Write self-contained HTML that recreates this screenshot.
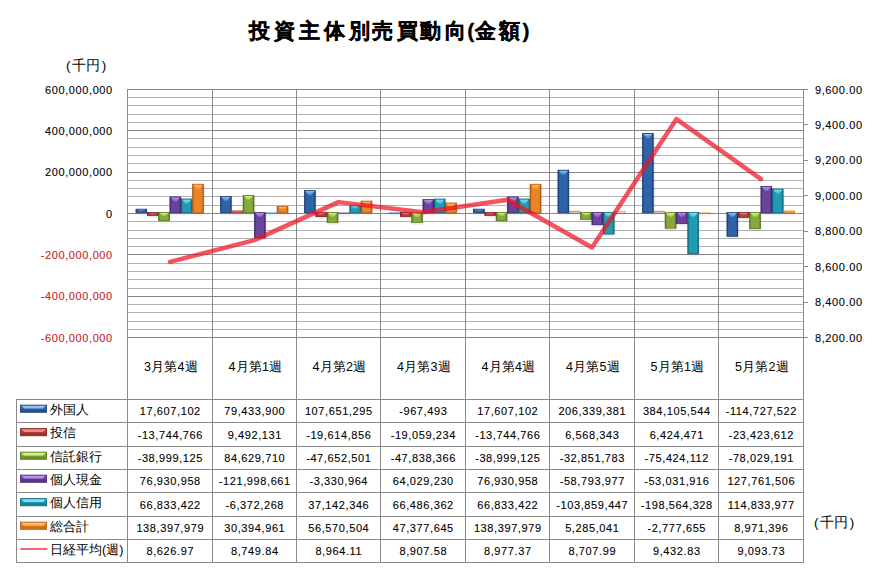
<!DOCTYPE html>
<html><head><meta charset="utf-8">
<style>
html,body{margin:0;padding:0;background:#fff;width:878px;height:585px;overflow:hidden}
body{font-family:"Liberation Sans",sans-serif;position:relative}
svg{position:absolute;left:0;top:0}
text{font-family:"Liberation Sans",sans-serif}
</style></head><body>
<svg width="878" height="585" viewBox="0 0 878 585">
<defs>

<linearGradient id="h0" x1="0" x2="1" y1="0" y2="0"><stop offset="0" stop-color="#1c3c6e"/><stop offset="0.18" stop-color="#2f63a8"/><stop offset="0.82" stop-color="#2f63a8"/><stop offset="1" stop-color="#1c3c6e"/></linearGradient>
<linearGradient id="k0" x1="0" x2="0" y1="0" y2="1"><stop offset="0" stop-color="#1c3c6e"/><stop offset="0.2" stop-color="#8cc0f8"/><stop offset="0.5" stop-color="#2f63a8"/><stop offset="1" stop-color="#1c3c6e"/></linearGradient>
<linearGradient id="h1" x1="0" x2="1" y1="0" y2="0"><stop offset="0" stop-color="#7a2422"/><stop offset="0.18" stop-color="#b8403c"/><stop offset="0.82" stop-color="#b8403c"/><stop offset="1" stop-color="#7a2422"/></linearGradient>
<linearGradient id="k1" x1="0" x2="0" y1="0" y2="1"><stop offset="0" stop-color="#7a2422"/><stop offset="0.2" stop-color="#f08a86"/><stop offset="0.5" stop-color="#b8403c"/><stop offset="1" stop-color="#7a2422"/></linearGradient>
<linearGradient id="h2" x1="0" x2="1" y1="0" y2="0"><stop offset="0" stop-color="#52701e"/><stop offset="0.18" stop-color="#86a83c"/><stop offset="0.82" stop-color="#86a83c"/><stop offset="1" stop-color="#52701e"/></linearGradient>
<linearGradient id="k2" x1="0" x2="0" y1="0" y2="1"><stop offset="0" stop-color="#52701e"/><stop offset="0.2" stop-color="#d2f27a"/><stop offset="0.5" stop-color="#86a83c"/><stop offset="1" stop-color="#52701e"/></linearGradient>
<linearGradient id="h3" x1="0" x2="1" y1="0" y2="0"><stop offset="0" stop-color="#402468"/><stop offset="0.18" stop-color="#6a449c"/><stop offset="0.82" stop-color="#6a449c"/><stop offset="1" stop-color="#402468"/></linearGradient>
<linearGradient id="k3" x1="0" x2="0" y1="0" y2="1"><stop offset="0" stop-color="#402468"/><stop offset="0.2" stop-color="#b890ea"/><stop offset="0.5" stop-color="#6a449c"/><stop offset="1" stop-color="#402468"/></linearGradient>
<linearGradient id="h4" x1="0" x2="1" y1="0" y2="0"><stop offset="0" stop-color="#0f6478"/><stop offset="0.18" stop-color="#2399b2"/><stop offset="0.82" stop-color="#2399b2"/><stop offset="1" stop-color="#0f6478"/></linearGradient>
<linearGradient id="k4" x1="0" x2="0" y1="0" y2="1"><stop offset="0" stop-color="#0f6478"/><stop offset="0.2" stop-color="#7ae4f6"/><stop offset="0.5" stop-color="#2399b2"/><stop offset="1" stop-color="#0f6478"/></linearGradient>
<linearGradient id="h5" x1="0" x2="1" y1="0" y2="0"><stop offset="0" stop-color="#a85610"/><stop offset="0.18" stop-color="#ea8426"/><stop offset="0.82" stop-color="#ea8426"/><stop offset="1" stop-color="#a85610"/></linearGradient>
<linearGradient id="k5" x1="0" x2="0" y1="0" y2="1"><stop offset="0" stop-color="#a85610"/><stop offset="0.2" stop-color="#fbbd62"/><stop offset="0.5" stop-color="#ea8426"/><stop offset="1" stop-color="#a85610"/></linearGradient>
<linearGradient id="t0" x1="0" x2="0" y1="0" y2="1"><stop offset="0" stop-color="#8cc0f8" stop-opacity="1"/><stop offset="1" stop-color="#8cc0f8" stop-opacity="0.35"/></linearGradient>
<linearGradient id="t1" x1="0" x2="0" y1="0" y2="1"><stop offset="0" stop-color="#f08a86" stop-opacity="1"/><stop offset="1" stop-color="#f08a86" stop-opacity="0.35"/></linearGradient>
<linearGradient id="t2" x1="0" x2="0" y1="0" y2="1"><stop offset="0" stop-color="#d2f27a" stop-opacity="1"/><stop offset="1" stop-color="#d2f27a" stop-opacity="0.35"/></linearGradient>
<linearGradient id="t3" x1="0" x2="0" y1="0" y2="1"><stop offset="0" stop-color="#b890ea" stop-opacity="1"/><stop offset="1" stop-color="#b890ea" stop-opacity="0.35"/></linearGradient>
<linearGradient id="t4" x1="0" x2="0" y1="0" y2="1"><stop offset="0" stop-color="#7ae4f6" stop-opacity="1"/><stop offset="1" stop-color="#7ae4f6" stop-opacity="0.35"/></linearGradient>
<linearGradient id="t5" x1="0" x2="0" y1="0" y2="1"><stop offset="0" stop-color="#fbbd62" stop-opacity="1"/><stop offset="1" stop-color="#fbbd62" stop-opacity="0.35"/></linearGradient>
<filter id="sh" x="-50%" y="-50%" width="200%" height="200%"><feGaussianBlur stdDeviation="1.2"/></filter>
</defs>
<text y="37.9" font-size="21" font-weight="bold" fill="#000" stroke="#000" stroke-width="0.35" x="248.7 273.7 298.7 323.9 348.6 371.7 397.3 420.4 445.3 467.2 475.4 499.3 522.5">投資主体別売買動向(金額)</text>
<text x="65.9 72.2 85.9 101.7" y="70.3" font-size="13.5" fill="#000">(千円)</text>
<line x1="127.5" x2="803.5" y1="97.5" y2="97.5" stroke="#b2b2b2" stroke-width="1"/>
<line x1="127.5" x2="803.5" y1="105.5" y2="105.5" stroke="#b2b2b2" stroke-width="1"/>
<line x1="127.5" x2="803.5" y1="114.5" y2="114.5" stroke="#b2b2b2" stroke-width="1"/>
<line x1="127.5" x2="803.5" y1="122.5" y2="122.5" stroke="#b2b2b2" stroke-width="1"/>
<line x1="127.5" x2="803.5" y1="138.5" y2="138.5" stroke="#b2b2b2" stroke-width="1"/>
<line x1="127.5" x2="803.5" y1="147.5" y2="147.5" stroke="#b2b2b2" stroke-width="1"/>
<line x1="127.5" x2="803.5" y1="155.5" y2="155.5" stroke="#b2b2b2" stroke-width="1"/>
<line x1="127.5" x2="803.5" y1="163.5" y2="163.5" stroke="#b2b2b2" stroke-width="1"/>
<line x1="127.5" x2="803.5" y1="180.5" y2="180.5" stroke="#b2b2b2" stroke-width="1"/>
<line x1="127.5" x2="803.5" y1="188.5" y2="188.5" stroke="#b2b2b2" stroke-width="1"/>
<line x1="127.5" x2="803.5" y1="196.5" y2="196.5" stroke="#b2b2b2" stroke-width="1"/>
<line x1="127.5" x2="803.5" y1="205.5" y2="205.5" stroke="#b2b2b2" stroke-width="1"/>
<line x1="127.5" x2="803.5" y1="221.5" y2="221.5" stroke="#b2b2b2" stroke-width="1"/>
<line x1="127.5" x2="803.5" y1="230.5" y2="230.5" stroke="#b2b2b2" stroke-width="1"/>
<line x1="127.5" x2="803.5" y1="238.5" y2="238.5" stroke="#b2b2b2" stroke-width="1"/>
<line x1="127.5" x2="803.5" y1="246.5" y2="246.5" stroke="#b2b2b2" stroke-width="1"/>
<line x1="127.5" x2="803.5" y1="263.5" y2="263.5" stroke="#b2b2b2" stroke-width="1"/>
<line x1="127.5" x2="803.5" y1="271.5" y2="271.5" stroke="#b2b2b2" stroke-width="1"/>
<line x1="127.5" x2="803.5" y1="279.5" y2="279.5" stroke="#b2b2b2" stroke-width="1"/>
<line x1="127.5" x2="803.5" y1="288.5" y2="288.5" stroke="#b2b2b2" stroke-width="1"/>
<line x1="127.5" x2="803.5" y1="304.5" y2="304.5" stroke="#b2b2b2" stroke-width="1"/>
<line x1="127.5" x2="803.5" y1="312.5" y2="312.5" stroke="#b2b2b2" stroke-width="1"/>
<line x1="127.5" x2="803.5" y1="321.5" y2="321.5" stroke="#b2b2b2" stroke-width="1"/>
<line x1="127.5" x2="803.5" y1="329.5" y2="329.5" stroke="#b2b2b2" stroke-width="1"/>
<line x1="127.5" x2="803.5" y1="89.5" y2="89.5" stroke="#868686" stroke-width="1"/>
<line x1="127.5" x2="803.5" y1="130.5" y2="130.5" stroke="#868686" stroke-width="1"/>
<line x1="127.5" x2="803.5" y1="172.5" y2="172.5" stroke="#868686" stroke-width="1"/>
<line x1="127.5" x2="803.5" y1="213.5" y2="213.5" stroke="#868686" stroke-width="1"/>
<line x1="127.5" x2="803.5" y1="254.5" y2="254.5" stroke="#868686" stroke-width="1"/>
<line x1="127.5" x2="803.5" y1="296.5" y2="296.5" stroke="#868686" stroke-width="1"/>
<line x1="127.5" x2="803.5" y1="337.5" y2="337.5" stroke="#868686" stroke-width="1"/>
<line x1="127.5" x2="127.5" y1="89.0" y2="563" stroke="#8a8a8a" stroke-width="1"/>
<line x1="212.5" x2="212.5" y1="89.0" y2="563" stroke="#8a8a8a" stroke-width="1"/>
<line x1="296.5" x2="296.5" y1="89.0" y2="563" stroke="#8a8a8a" stroke-width="1"/>
<line x1="380.5" x2="380.5" y1="89.0" y2="563" stroke="#8a8a8a" stroke-width="1"/>
<line x1="465.5" x2="465.5" y1="89.0" y2="563" stroke="#8a8a8a" stroke-width="1"/>
<line x1="549.5" x2="549.5" y1="89.0" y2="563" stroke="#8a8a8a" stroke-width="1"/>
<line x1="634.5" x2="634.5" y1="89.0" y2="563" stroke="#8a8a8a" stroke-width="1"/>
<line x1="718.5" x2="718.5" y1="89.0" y2="563" stroke="#8a8a8a" stroke-width="1"/>
<line x1="803.5" x2="803.5" y1="89.0" y2="563" stroke="#8a8a8a" stroke-width="1"/>
<line x1="803.5" x2="808" y1="89.5" y2="89.5" stroke="#8a8a8a" stroke-width="1"/>
<line x1="803.5" x2="808" y1="124.5" y2="124.5" stroke="#8a8a8a" stroke-width="1"/>
<line x1="803.5" x2="808" y1="160.5" y2="160.5" stroke="#8a8a8a" stroke-width="1"/>
<line x1="803.5" x2="808" y1="195.5" y2="195.5" stroke="#8a8a8a" stroke-width="1"/>
<line x1="803.5" x2="808" y1="231.5" y2="231.5" stroke="#8a8a8a" stroke-width="1"/>
<line x1="803.5" x2="808" y1="266.5" y2="266.5" stroke="#8a8a8a" stroke-width="1"/>
<line x1="803.5" x2="808" y1="302.5" y2="302.5" stroke="#8a8a8a" stroke-width="1"/>
<line x1="803.5" x2="808" y1="337.5" y2="337.5" stroke="#8a8a8a" stroke-width="1"/>
<text x="112.8" y="93.50" text-anchor="end" font-size="11" letter-spacing="0.6" fill="#000" stroke="#000" stroke-width="0.1">600,000,000</text>
<text x="112.8" y="134.83" text-anchor="end" font-size="11" letter-spacing="0.6" fill="#000" stroke="#000" stroke-width="0.1">400,000,000</text>
<text x="112.8" y="176.17" text-anchor="end" font-size="11" letter-spacing="0.6" fill="#000" stroke="#000" stroke-width="0.1">200,000,000</text>
<text x="112.8" y="217.50" text-anchor="end" font-size="11" letter-spacing="0.6" fill="#000" stroke="#000" stroke-width="0.1">0</text>
<text x="112.8" y="258.83" text-anchor="end" font-size="11" letter-spacing="0.6" fill="#c8202a" stroke="#c8202a" stroke-width="0.1">-200,000,000</text>
<text x="112.8" y="300.17" text-anchor="end" font-size="11" letter-spacing="0.6" fill="#c8202a" stroke="#c8202a" stroke-width="0.1">-400,000,000</text>
<text x="112.8" y="341.50" text-anchor="end" font-size="11" letter-spacing="0.6" fill="#c8202a" stroke="#c8202a" stroke-width="0.1">-600,000,000</text>
<text x="815" y="93.50" font-size="11" letter-spacing="0.6" fill="#000" stroke="#000" stroke-width="0.1">9,600.00</text>
<text x="815" y="128.93" font-size="11" letter-spacing="0.6" fill="#000" stroke="#000" stroke-width="0.1">9,400.00</text>
<text x="815" y="164.36" font-size="11" letter-spacing="0.6" fill="#000" stroke="#000" stroke-width="0.1">9,200.00</text>
<text x="815" y="199.79" font-size="11" letter-spacing="0.6" fill="#000" stroke="#000" stroke-width="0.1">9,000.00</text>
<text x="815" y="235.21" font-size="11" letter-spacing="0.6" fill="#000" stroke="#000" stroke-width="0.1">8,800.00</text>
<text x="815" y="270.64" font-size="11" letter-spacing="0.6" fill="#000" stroke="#000" stroke-width="0.1">8,600.00</text>
<text x="815" y="306.07" font-size="11" letter-spacing="0.6" fill="#000" stroke="#000" stroke-width="0.1">8,400.00</text>
<text x="815" y="341.50" font-size="11" letter-spacing="0.6" fill="#000" stroke="#000" stroke-width="0.1">8,200.00</text>
<rect x="136.21" y="210.36" width="11.33" height="4.04" fill="#000" opacity="0.12" filter="url(#sh)"/>
<rect x="135.71" y="208.86" width="11.33" height="4.04" fill="url(#h0)"/>
<polygon points="136.71,209.56 146.04,209.56 142.57,210.68 140.17,210.68" fill="url(#t0)"/>
<rect x="136.06" y="209.21" width="10.63" height="3.34" fill="none" stroke="#1c3c6e" stroke-width="0.7" opacity="0.8"/>
<rect x="147.54" y="213.60" width="11.33" height="3.64" fill="#000" opacity="0.12" filter="url(#sh)"/>
<rect x="147.04" y="212.10" width="11.33" height="3.64" fill="url(#h1)"/>
<polygon points="148.04,212.80 157.37,212.80 153.90,213.74 151.50,213.74" fill="url(#t1)"/>
<rect x="147.39" y="212.45" width="10.63" height="2.94" fill="none" stroke="#7a2422" stroke-width="0.7" opacity="0.8"/>
<rect x="158.87" y="213.60" width="11.33" height="8.86" fill="#000" opacity="0.12" filter="url(#sh)"/>
<rect x="158.37" y="212.10" width="11.33" height="8.86" fill="url(#h2)"/>
<polygon points="159.37,212.80 168.70,212.80 165.23,216.09 162.83,216.09" fill="url(#t2)"/>
<rect x="158.72" y="212.45" width="10.63" height="8.16" fill="none" stroke="#52701e" stroke-width="0.7" opacity="0.8"/>
<rect x="170.20" y="198.10" width="11.33" height="16.30" fill="#000" opacity="0.12" filter="url(#sh)"/>
<rect x="169.70" y="196.60" width="11.33" height="16.30" fill="url(#h3)"/>
<polygon points="170.70,197.30 180.03,197.30 176.56,201.60 174.16,201.60" fill="url(#t3)"/>
<rect x="170.05" y="196.95" width="10.63" height="15.60" fill="none" stroke="#402468" stroke-width="0.7" opacity="0.8"/>
<rect x="181.53" y="200.19" width="11.33" height="14.21" fill="#000" opacity="0.12" filter="url(#sh)"/>
<rect x="181.03" y="198.69" width="11.33" height="14.21" fill="url(#h4)"/>
<polygon points="182.03,199.39 191.36,199.39 187.89,203.69 185.49,203.69" fill="url(#t4)"/>
<rect x="181.38" y="199.04" width="10.63" height="13.51" fill="none" stroke="#0f6478" stroke-width="0.7" opacity="0.8"/>
<rect x="192.86" y="185.40" width="11.33" height="29.00" fill="#000" opacity="0.12" filter="url(#sh)"/>
<rect x="192.36" y="183.90" width="11.33" height="29.00" fill="url(#h5)"/>
<polygon points="193.36,184.60 202.69,184.60 199.22,188.90 196.82,188.90" fill="url(#t5)"/>
<rect x="192.71" y="184.25" width="10.63" height="28.30" fill="none" stroke="#a85610" stroke-width="0.7" opacity="0.8"/>
<rect x="220.71" y="197.58" width="11.33" height="16.82" fill="#000" opacity="0.12" filter="url(#sh)"/>
<rect x="220.21" y="196.08" width="11.33" height="16.82" fill="url(#h0)"/>
<polygon points="221.21,196.78 230.54,196.78 227.07,201.08 224.67,201.08" fill="url(#t0)"/>
<rect x="220.56" y="196.43" width="10.63" height="16.12" fill="none" stroke="#1c3c6e" stroke-width="0.7" opacity="0.8"/>
<rect x="232.04" y="212.04" width="11.33" height="2.36" fill="#000" opacity="0.12" filter="url(#sh)"/>
<rect x="231.54" y="210.54" width="11.33" height="2.36" fill="url(#h1)"/>
<rect x="231.54" y="210.54" width="11.33" height="1.18" fill="#f08a86" opacity="0.6"/>
<rect x="243.37" y="196.51" width="11.33" height="17.89" fill="#000" opacity="0.12" filter="url(#sh)"/>
<rect x="242.87" y="195.01" width="11.33" height="17.89" fill="url(#h2)"/>
<polygon points="243.87,195.71 253.20,195.71 249.73,200.01 247.33,200.01" fill="url(#t2)"/>
<rect x="243.22" y="195.36" width="10.63" height="17.19" fill="none" stroke="#52701e" stroke-width="0.7" opacity="0.8"/>
<rect x="254.70" y="213.60" width="11.33" height="26.01" fill="#000" opacity="0.12" filter="url(#sh)"/>
<rect x="254.20" y="212.10" width="11.33" height="26.01" fill="url(#h3)"/>
<polygon points="255.20,212.80 264.53,212.80 261.06,217.10 258.67,217.10" fill="url(#t3)"/>
<rect x="254.55" y="212.45" width="10.63" height="25.31" fill="none" stroke="#402468" stroke-width="0.7" opacity="0.8"/>
<rect x="266.03" y="213.80" width="11.33" height="1.60" fill="#000" opacity="0.12" filter="url(#sh)"/>
<rect x="265.53" y="212.30" width="11.33" height="1.60" fill="url(#h4)" opacity="0.6"/>
<rect x="265.53" y="212.30" width="11.33" height="0.80" fill="#7ae4f6" opacity="0.6"/>
<rect x="277.36" y="207.72" width="11.33" height="6.68" fill="#000" opacity="0.12" filter="url(#sh)"/>
<rect x="276.86" y="206.22" width="11.33" height="6.68" fill="url(#h5)"/>
<polygon points="277.86,206.92 287.19,206.92 283.72,209.23 281.32,209.23" fill="url(#t5)"/>
<rect x="277.21" y="206.57" width="10.63" height="5.98" fill="none" stroke="#a85610" stroke-width="0.7" opacity="0.8"/>
<rect x="304.71" y="191.75" width="11.33" height="22.65" fill="#000" opacity="0.12" filter="url(#sh)"/>
<rect x="304.21" y="190.25" width="11.33" height="22.65" fill="url(#h0)"/>
<polygon points="305.21,190.95 314.54,190.95 311.07,195.25 308.68,195.25" fill="url(#t0)"/>
<rect x="304.56" y="190.60" width="10.63" height="21.95" fill="none" stroke="#1c3c6e" stroke-width="0.7" opacity="0.8"/>
<rect x="316.04" y="213.60" width="11.33" height="4.85" fill="#000" opacity="0.12" filter="url(#sh)"/>
<rect x="315.54" y="212.10" width="11.33" height="4.85" fill="url(#h1)"/>
<polygon points="316.54,212.80 325.87,212.80 322.40,214.28 320.00,214.28" fill="url(#t1)"/>
<rect x="315.89" y="212.45" width="10.63" height="4.15" fill="none" stroke="#7a2422" stroke-width="0.7" opacity="0.8"/>
<rect x="327.37" y="213.60" width="11.33" height="10.65" fill="#000" opacity="0.12" filter="url(#sh)"/>
<rect x="326.87" y="212.10" width="11.33" height="10.65" fill="url(#h2)"/>
<polygon points="327.87,212.80 337.20,212.80 333.74,216.89 331.34,216.89" fill="url(#t2)"/>
<rect x="327.22" y="212.45" width="10.63" height="9.95" fill="none" stroke="#52701e" stroke-width="0.7" opacity="0.8"/>
<rect x="338.70" y="213.80" width="11.33" height="1.60" fill="#000" opacity="0.12" filter="url(#sh)"/>
<rect x="338.20" y="212.30" width="11.33" height="1.60" fill="url(#h3)" opacity="0.6"/>
<rect x="338.20" y="212.30" width="11.33" height="0.80" fill="#b890ea" opacity="0.6"/>
<rect x="350.03" y="206.32" width="11.33" height="8.08" fill="#000" opacity="0.12" filter="url(#sh)"/>
<rect x="349.53" y="204.82" width="11.33" height="8.08" fill="url(#h4)"/>
<polygon points="350.53,205.52 359.86,205.52 356.39,208.46 354.00,208.46" fill="url(#t4)"/>
<rect x="349.88" y="205.17" width="10.63" height="7.38" fill="none" stroke="#0f6478" stroke-width="0.7" opacity="0.8"/>
<rect x="361.36" y="202.31" width="11.33" height="12.09" fill="#000" opacity="0.12" filter="url(#sh)"/>
<rect x="360.86" y="200.81" width="11.33" height="12.09" fill="url(#h5)"/>
<polygon points="361.86,201.51 371.19,201.51 367.72,205.81 365.32,205.81" fill="url(#t5)"/>
<rect x="361.21" y="201.16" width="10.63" height="11.39" fill="none" stroke="#a85610" stroke-width="0.7" opacity="0.8"/>
<rect x="389.21" y="213.80" width="11.33" height="1.60" fill="#000" opacity="0.12" filter="url(#sh)"/>
<rect x="388.71" y="212.30" width="11.33" height="1.60" fill="url(#h0)" opacity="0.6"/>
<rect x="388.71" y="212.30" width="11.33" height="0.80" fill="#8cc0f8" opacity="0.6"/>
<rect x="400.54" y="213.60" width="11.33" height="4.74" fill="#000" opacity="0.12" filter="url(#sh)"/>
<rect x="400.04" y="212.10" width="11.33" height="4.74" fill="url(#h1)"/>
<polygon points="401.04,212.80 410.37,212.80 406.90,214.23 404.50,214.23" fill="url(#t1)"/>
<rect x="400.39" y="212.45" width="10.63" height="4.04" fill="none" stroke="#7a2422" stroke-width="0.7" opacity="0.8"/>
<rect x="411.87" y="213.60" width="11.33" height="10.69" fill="#000" opacity="0.12" filter="url(#sh)"/>
<rect x="411.37" y="212.10" width="11.33" height="10.69" fill="url(#h2)"/>
<polygon points="412.37,212.80 421.70,212.80 418.24,216.91 415.84,216.91" fill="url(#t2)"/>
<rect x="411.72" y="212.45" width="10.63" height="9.99" fill="none" stroke="#52701e" stroke-width="0.7" opacity="0.8"/>
<rect x="423.20" y="200.77" width="11.33" height="13.63" fill="#000" opacity="0.12" filter="url(#sh)"/>
<rect x="422.70" y="199.27" width="11.33" height="13.63" fill="url(#h3)"/>
<polygon points="423.70,199.97 433.03,199.97 429.56,204.27 427.17,204.27" fill="url(#t3)"/>
<rect x="423.05" y="199.62" width="10.63" height="12.93" fill="none" stroke="#402468" stroke-width="0.7" opacity="0.8"/>
<rect x="434.53" y="200.26" width="11.33" height="14.14" fill="#000" opacity="0.12" filter="url(#sh)"/>
<rect x="434.03" y="198.76" width="11.33" height="14.14" fill="url(#h4)"/>
<polygon points="435.03,199.46 444.36,199.46 440.89,203.76 438.50,203.76" fill="url(#t4)"/>
<rect x="434.38" y="199.11" width="10.63" height="13.44" fill="none" stroke="#0f6478" stroke-width="0.7" opacity="0.8"/>
<rect x="445.86" y="204.21" width="11.33" height="10.19" fill="#000" opacity="0.12" filter="url(#sh)"/>
<rect x="445.36" y="202.71" width="11.33" height="10.19" fill="url(#h5)"/>
<polygon points="446.36,203.41 455.69,203.41 452.22,207.29 449.82,207.29" fill="url(#t5)"/>
<rect x="445.71" y="203.06" width="10.63" height="9.49" fill="none" stroke="#a85610" stroke-width="0.7" opacity="0.8"/>
<rect x="473.71" y="210.36" width="11.33" height="4.04" fill="#000" opacity="0.12" filter="url(#sh)"/>
<rect x="473.21" y="208.86" width="11.33" height="4.04" fill="url(#h0)"/>
<polygon points="474.21,209.56 483.54,209.56 480.07,210.68 477.68,210.68" fill="url(#t0)"/>
<rect x="473.56" y="209.21" width="10.63" height="3.34" fill="none" stroke="#1c3c6e" stroke-width="0.7" opacity="0.8"/>
<rect x="485.04" y="213.60" width="11.33" height="3.64" fill="#000" opacity="0.12" filter="url(#sh)"/>
<rect x="484.54" y="212.10" width="11.33" height="3.64" fill="url(#h1)"/>
<polygon points="485.54,212.80 494.87,212.80 491.40,213.74 489.00,213.74" fill="url(#t1)"/>
<rect x="484.89" y="212.45" width="10.63" height="2.94" fill="none" stroke="#7a2422" stroke-width="0.7" opacity="0.8"/>
<rect x="496.37" y="213.60" width="11.33" height="8.86" fill="#000" opacity="0.12" filter="url(#sh)"/>
<rect x="495.87" y="212.10" width="11.33" height="8.86" fill="url(#h2)"/>
<polygon points="496.87,212.80 506.20,212.80 502.74,216.09 500.34,216.09" fill="url(#t2)"/>
<rect x="496.22" y="212.45" width="10.63" height="8.16" fill="none" stroke="#52701e" stroke-width="0.7" opacity="0.8"/>
<rect x="507.70" y="198.10" width="11.33" height="16.30" fill="#000" opacity="0.12" filter="url(#sh)"/>
<rect x="507.20" y="196.60" width="11.33" height="16.30" fill="url(#h3)"/>
<polygon points="508.20,197.30 517.53,197.30 514.07,201.60 511.67,201.60" fill="url(#t3)"/>
<rect x="507.55" y="196.95" width="10.63" height="15.60" fill="none" stroke="#402468" stroke-width="0.7" opacity="0.8"/>
<rect x="519.03" y="200.19" width="11.33" height="14.21" fill="#000" opacity="0.12" filter="url(#sh)"/>
<rect x="518.53" y="198.69" width="11.33" height="14.21" fill="url(#h4)"/>
<polygon points="519.53,199.39 528.86,199.39 525.39,203.69 522.99,203.69" fill="url(#t4)"/>
<rect x="518.88" y="199.04" width="10.63" height="13.51" fill="none" stroke="#0f6478" stroke-width="0.7" opacity="0.8"/>
<rect x="530.36" y="185.40" width="11.33" height="29.00" fill="#000" opacity="0.12" filter="url(#sh)"/>
<rect x="529.86" y="183.90" width="11.33" height="29.00" fill="url(#h5)"/>
<polygon points="530.86,184.60 540.19,184.60 536.73,188.90 534.32,188.90" fill="url(#t5)"/>
<rect x="530.21" y="184.25" width="10.63" height="28.30" fill="none" stroke="#a85610" stroke-width="0.7" opacity="0.8"/>
<rect x="558.21" y="171.36" width="11.33" height="43.04" fill="#000" opacity="0.12" filter="url(#sh)"/>
<rect x="557.71" y="169.86" width="11.33" height="43.04" fill="url(#h0)"/>
<polygon points="558.71,170.56 568.04,170.56 564.58,174.86 562.17,174.86" fill="url(#t0)"/>
<rect x="558.06" y="170.21" width="10.63" height="42.34" fill="none" stroke="#1c3c6e" stroke-width="0.7" opacity="0.8"/>
<rect x="569.54" y="212.40" width="11.33" height="1.60" fill="#000" opacity="0.12" filter="url(#sh)"/>
<rect x="569.04" y="210.90" width="11.33" height="1.60" fill="url(#h1)" opacity="0.6"/>
<rect x="569.04" y="210.90" width="11.33" height="0.80" fill="#f08a86" opacity="0.6"/>
<rect x="580.87" y="213.60" width="11.33" height="7.59" fill="#000" opacity="0.12" filter="url(#sh)"/>
<rect x="580.37" y="212.10" width="11.33" height="7.59" fill="url(#h2)"/>
<polygon points="581.37,212.80 590.70,212.80 587.24,215.52 584.83,215.52" fill="url(#t2)"/>
<rect x="580.72" y="212.45" width="10.63" height="6.89" fill="none" stroke="#52701e" stroke-width="0.7" opacity="0.8"/>
<rect x="592.20" y="213.60" width="11.33" height="12.95" fill="#000" opacity="0.12" filter="url(#sh)"/>
<rect x="591.70" y="212.10" width="11.33" height="12.95" fill="url(#h3)"/>
<polygon points="592.70,212.80 602.03,212.80 598.57,217.10 596.16,217.10" fill="url(#t3)"/>
<rect x="592.05" y="212.45" width="10.63" height="12.25" fill="none" stroke="#402468" stroke-width="0.7" opacity="0.8"/>
<rect x="603.53" y="213.60" width="11.33" height="22.26" fill="#000" opacity="0.12" filter="url(#sh)"/>
<rect x="603.03" y="212.10" width="11.33" height="22.26" fill="url(#h4)"/>
<polygon points="604.03,212.80 613.36,212.80 609.90,217.10 607.50,217.10" fill="url(#t4)"/>
<rect x="603.38" y="212.45" width="10.63" height="21.56" fill="none" stroke="#0f6478" stroke-width="0.7" opacity="0.8"/>
<rect x="614.86" y="212.40" width="11.33" height="1.60" fill="#000" opacity="0.12" filter="url(#sh)"/>
<rect x="614.36" y="210.90" width="11.33" height="1.60" fill="url(#h5)" opacity="0.6"/>
<rect x="614.36" y="210.90" width="11.33" height="0.80" fill="#fbbd62" opacity="0.6"/>
<rect x="642.71" y="134.62" width="11.33" height="79.78" fill="#000" opacity="0.12" filter="url(#sh)"/>
<rect x="642.21" y="133.12" width="11.33" height="79.78" fill="url(#h0)"/>
<polygon points="643.21,133.82 652.54,133.82 649.08,138.12 646.67,138.12" fill="url(#t0)"/>
<rect x="642.56" y="133.47" width="10.63" height="79.08" fill="none" stroke="#1c3c6e" stroke-width="0.7" opacity="0.8"/>
<rect x="654.04" y="212.40" width="11.33" height="1.60" fill="#000" opacity="0.12" filter="url(#sh)"/>
<rect x="653.54" y="210.90" width="11.33" height="1.60" fill="url(#h1)" opacity="0.6"/>
<rect x="653.54" y="210.90" width="11.33" height="0.80" fill="#f08a86" opacity="0.6"/>
<rect x="665.37" y="213.60" width="11.33" height="16.39" fill="#000" opacity="0.12" filter="url(#sh)"/>
<rect x="664.87" y="212.10" width="11.33" height="16.39" fill="url(#h2)"/>
<polygon points="665.87,212.80 675.20,212.80 671.74,217.10 669.33,217.10" fill="url(#t2)"/>
<rect x="665.22" y="212.45" width="10.63" height="15.69" fill="none" stroke="#52701e" stroke-width="0.7" opacity="0.8"/>
<rect x="676.70" y="213.60" width="11.33" height="11.76" fill="#000" opacity="0.12" filter="url(#sh)"/>
<rect x="676.20" y="212.10" width="11.33" height="11.76" fill="url(#h3)"/>
<polygon points="677.20,212.80 686.53,212.80 683.07,217.10 680.66,217.10" fill="url(#t3)"/>
<rect x="676.55" y="212.45" width="10.63" height="11.06" fill="none" stroke="#402468" stroke-width="0.7" opacity="0.8"/>
<rect x="688.03" y="213.60" width="11.33" height="41.84" fill="#000" opacity="0.12" filter="url(#sh)"/>
<rect x="687.53" y="212.10" width="11.33" height="41.84" fill="url(#h4)"/>
<polygon points="688.53,212.80 697.86,212.80 694.40,217.10 692.00,217.10" fill="url(#t4)"/>
<rect x="687.88" y="212.45" width="10.63" height="41.14" fill="none" stroke="#0f6478" stroke-width="0.7" opacity="0.8"/>
<rect x="699.36" y="213.80" width="11.33" height="1.60" fill="#000" opacity="0.12" filter="url(#sh)"/>
<rect x="698.86" y="212.30" width="11.33" height="1.60" fill="url(#h5)" opacity="0.6"/>
<rect x="698.86" y="212.30" width="11.33" height="0.80" fill="#fbbd62" opacity="0.6"/>
<rect x="727.21" y="213.60" width="11.33" height="24.51" fill="#000" opacity="0.12" filter="url(#sh)"/>
<rect x="726.71" y="212.10" width="11.33" height="24.51" fill="url(#h0)"/>
<polygon points="727.71,212.80 737.04,212.80 733.58,217.10 731.17,217.10" fill="url(#t0)"/>
<rect x="727.06" y="212.45" width="10.63" height="23.81" fill="none" stroke="#1c3c6e" stroke-width="0.7" opacity="0.8"/>
<rect x="738.54" y="213.60" width="11.33" height="5.64" fill="#000" opacity="0.12" filter="url(#sh)"/>
<rect x="738.04" y="212.10" width="11.33" height="5.64" fill="url(#h1)"/>
<polygon points="739.04,212.80 748.37,212.80 744.91,214.64 742.50,214.64" fill="url(#t1)"/>
<rect x="738.39" y="212.45" width="10.63" height="4.94" fill="none" stroke="#7a2422" stroke-width="0.7" opacity="0.8"/>
<rect x="749.87" y="213.60" width="11.33" height="16.93" fill="#000" opacity="0.12" filter="url(#sh)"/>
<rect x="749.37" y="212.10" width="11.33" height="16.93" fill="url(#h2)"/>
<polygon points="750.37,212.80 759.70,212.80 756.24,217.10 753.83,217.10" fill="url(#t2)"/>
<rect x="749.72" y="212.45" width="10.63" height="16.23" fill="none" stroke="#52701e" stroke-width="0.7" opacity="0.8"/>
<rect x="761.20" y="187.60" width="11.33" height="26.80" fill="#000" opacity="0.12" filter="url(#sh)"/>
<rect x="760.70" y="186.10" width="11.33" height="26.80" fill="url(#h3)"/>
<polygon points="761.70,186.80 771.03,186.80 767.57,191.10 765.16,191.10" fill="url(#t3)"/>
<rect x="761.05" y="186.45" width="10.63" height="26.10" fill="none" stroke="#402468" stroke-width="0.7" opacity="0.8"/>
<rect x="772.53" y="190.27" width="11.33" height="24.13" fill="#000" opacity="0.12" filter="url(#sh)"/>
<rect x="772.03" y="188.77" width="11.33" height="24.13" fill="url(#h4)"/>
<polygon points="773.03,189.47 782.36,189.47 778.90,193.77 776.50,193.77" fill="url(#t4)"/>
<rect x="772.38" y="189.12" width="10.63" height="23.43" fill="none" stroke="#0f6478" stroke-width="0.7" opacity="0.8"/>
<rect x="783.86" y="212.15" width="11.33" height="2.25" fill="#000" opacity="0.12" filter="url(#sh)"/>
<rect x="783.36" y="210.65" width="11.33" height="2.25" fill="url(#h5)"/>
<rect x="783.36" y="210.65" width="11.33" height="1.13" fill="#fbbd62" opacity="0.6"/>
<polyline points="170.00,261.87 254.50,240.10 338.50,202.14 423.00,212.16 507.50,199.79 592.00,247.51 676.50,119.11 761.00,179.18" fill="none" stroke="#ed1423" stroke-opacity="0.72" stroke-width="4.5" stroke-linejoin="round" stroke-linecap="round"/>
<text x="170.00" y="371.2" text-anchor="middle" dx="1" font-size="12.5" letter-spacing="0.2" fill="#000">3月第4週</text>
<text x="254.50" y="371.2" text-anchor="middle" dx="1" font-size="12.5" letter-spacing="0.2" fill="#000">4月第1週</text>
<text x="338.50" y="371.2" text-anchor="middle" dx="1" font-size="12.5" letter-spacing="0.2" fill="#000">4月第2週</text>
<text x="423.00" y="371.2" text-anchor="middle" dx="1" font-size="12.5" letter-spacing="0.2" fill="#000">4月第3週</text>
<text x="507.50" y="371.2" text-anchor="middle" dx="1" font-size="12.5" letter-spacing="0.2" fill="#000">4月第4週</text>
<text x="592.00" y="371.2" text-anchor="middle" dx="1" font-size="12.5" letter-spacing="0.2" fill="#000">4月第5週</text>
<text x="676.50" y="371.2" text-anchor="middle" dx="1" font-size="12.5" letter-spacing="0.2" fill="#000">5月第1週</text>
<text x="761.00" y="371.2" text-anchor="middle" dx="1" font-size="12.5" letter-spacing="0.2" fill="#000">5月第2週</text>
<line x1="16" x2="803.5" y1="399.5" y2="399.5" stroke="#8a8a8a" stroke-width="1"/>
<line x1="16" x2="803.5" y1="422.5" y2="422.5" stroke="#8a8a8a" stroke-width="1"/>
<line x1="16" x2="803.5" y1="446.5" y2="446.5" stroke="#8a8a8a" stroke-width="1"/>
<line x1="16" x2="803.5" y1="469.5" y2="469.5" stroke="#8a8a8a" stroke-width="1"/>
<line x1="16" x2="803.5" y1="492.5" y2="492.5" stroke="#8a8a8a" stroke-width="1"/>
<line x1="16" x2="803.5" y1="516.5" y2="516.5" stroke="#8a8a8a" stroke-width="1"/>
<line x1="16" x2="803.5" y1="539.5" y2="539.5" stroke="#8a8a8a" stroke-width="1"/>
<line x1="16" x2="803.5" y1="562.5" y2="562.5" stroke="#8a8a8a" stroke-width="1"/>
<line x1="16.5" x2="16.5" y1="399.5" y2="563" stroke="#8a8a8a" stroke-width="1"/>
<rect x="20.4" y="405.10" width="26.2" height="7.2" fill="#2f63a8" stroke="#1c3c6e" stroke-width="0.8"/>
<rect x="21" y="409.30" width="25" height="2.6" fill="#1c3c6e" opacity="0.45"/>
<polygon points="21.2,405.70 45.8,405.70 42.8,408.60 24.2,408.60" fill="#8cc0f8"/>
<text x="50" y="413.80" font-size="12.5" letter-spacing="0.0" fill="#000">外国人</text>
<text x="170.00" y="415.30" dx="0.3" text-anchor="middle" font-size="11" letter-spacing="0.6" fill="#000" stroke="#000" stroke-width="0.1">17,607,102</text>
<text x="254.50" y="415.30" dx="0.3" text-anchor="middle" font-size="11" letter-spacing="0.6" fill="#000" stroke="#000" stroke-width="0.1">79,433,900</text>
<text x="338.50" y="415.30" dx="0.3" text-anchor="middle" font-size="11" letter-spacing="0.6" fill="#000" stroke="#000" stroke-width="0.1">107,651,295</text>
<text x="423.00" y="415.30" dx="0.3" text-anchor="middle" font-size="11" letter-spacing="0.6" fill="#000" stroke="#000" stroke-width="0.1">-967,493</text>
<text x="507.50" y="415.30" dx="0.3" text-anchor="middle" font-size="11" letter-spacing="0.6" fill="#000" stroke="#000" stroke-width="0.1">17,607,102</text>
<text x="592.00" y="415.30" dx="0.3" text-anchor="middle" font-size="11" letter-spacing="0.6" fill="#000" stroke="#000" stroke-width="0.1">206,339,381</text>
<text x="676.50" y="415.30" dx="0.3" text-anchor="middle" font-size="11" letter-spacing="0.6" fill="#000" stroke="#000" stroke-width="0.1">384,105,544</text>
<text x="761.00" y="415.30" dx="0.3" text-anchor="middle" font-size="11" letter-spacing="0.6" fill="#000" stroke="#000" stroke-width="0.1">-114,727,522</text>
<rect x="20.4" y="428.60" width="26.2" height="7.2" fill="#b8403c" stroke="#7a2422" stroke-width="0.8"/>
<rect x="21" y="432.80" width="25" height="2.6" fill="#7a2422" opacity="0.45"/>
<polygon points="21.2,429.20 45.8,429.20 42.8,432.10 24.2,432.10" fill="#f08a86"/>
<text x="50" y="437.30" font-size="12.5" letter-spacing="0.0" fill="#000">投信</text>
<text x="170.00" y="438.80" dx="0.3" text-anchor="middle" font-size="11" letter-spacing="0.6" fill="#000" stroke="#000" stroke-width="0.1">-13,744,766</text>
<text x="254.50" y="438.80" dx="0.3" text-anchor="middle" font-size="11" letter-spacing="0.6" fill="#000" stroke="#000" stroke-width="0.1">9,492,131</text>
<text x="338.50" y="438.80" dx="0.3" text-anchor="middle" font-size="11" letter-spacing="0.6" fill="#000" stroke="#000" stroke-width="0.1">-19,614,856</text>
<text x="423.00" y="438.80" dx="0.3" text-anchor="middle" font-size="11" letter-spacing="0.6" fill="#000" stroke="#000" stroke-width="0.1">-19,059,234</text>
<text x="507.50" y="438.80" dx="0.3" text-anchor="middle" font-size="11" letter-spacing="0.6" fill="#000" stroke="#000" stroke-width="0.1">-13,744,766</text>
<text x="592.00" y="438.80" dx="0.3" text-anchor="middle" font-size="11" letter-spacing="0.6" fill="#000" stroke="#000" stroke-width="0.1">6,568,343</text>
<text x="676.50" y="438.80" dx="0.3" text-anchor="middle" font-size="11" letter-spacing="0.6" fill="#000" stroke="#000" stroke-width="0.1">6,424,471</text>
<text x="761.00" y="438.80" dx="0.3" text-anchor="middle" font-size="11" letter-spacing="0.6" fill="#000" stroke="#000" stroke-width="0.1">-23,423,612</text>
<rect x="20.4" y="452.10" width="26.2" height="7.2" fill="#86a83c" stroke="#52701e" stroke-width="0.8"/>
<rect x="21" y="456.30" width="25" height="2.6" fill="#52701e" opacity="0.45"/>
<polygon points="21.2,452.70 45.8,452.70 42.8,455.60 24.2,455.60" fill="#d2f27a"/>
<text x="50" y="460.80" font-size="12.5" letter-spacing="0.0" fill="#000">信託銀行</text>
<text x="170.00" y="462.30" dx="0.3" text-anchor="middle" font-size="11" letter-spacing="0.6" fill="#000" stroke="#000" stroke-width="0.1">-38,999,125</text>
<text x="254.50" y="462.30" dx="0.3" text-anchor="middle" font-size="11" letter-spacing="0.6" fill="#000" stroke="#000" stroke-width="0.1">84,629,710</text>
<text x="338.50" y="462.30" dx="0.3" text-anchor="middle" font-size="11" letter-spacing="0.6" fill="#000" stroke="#000" stroke-width="0.1">-47,652,501</text>
<text x="423.00" y="462.30" dx="0.3" text-anchor="middle" font-size="11" letter-spacing="0.6" fill="#000" stroke="#000" stroke-width="0.1">-47,838,366</text>
<text x="507.50" y="462.30" dx="0.3" text-anchor="middle" font-size="11" letter-spacing="0.6" fill="#000" stroke="#000" stroke-width="0.1">-38,999,125</text>
<text x="592.00" y="462.30" dx="0.3" text-anchor="middle" font-size="11" letter-spacing="0.6" fill="#000" stroke="#000" stroke-width="0.1">-32,851,783</text>
<text x="676.50" y="462.30" dx="0.3" text-anchor="middle" font-size="11" letter-spacing="0.6" fill="#000" stroke="#000" stroke-width="0.1">-75,424,112</text>
<text x="761.00" y="462.30" dx="0.3" text-anchor="middle" font-size="11" letter-spacing="0.6" fill="#000" stroke="#000" stroke-width="0.1">-78,029,191</text>
<rect x="20.4" y="475.10" width="26.2" height="7.2" fill="#6a449c" stroke="#402468" stroke-width="0.8"/>
<rect x="21" y="479.30" width="25" height="2.6" fill="#402468" opacity="0.45"/>
<polygon points="21.2,475.70 45.8,475.70 42.8,478.60 24.2,478.60" fill="#b890ea"/>
<text x="50" y="483.80" font-size="12.5" letter-spacing="0.0" fill="#000">個人現金</text>
<text x="170.00" y="485.30" dx="0.3" text-anchor="middle" font-size="11" letter-spacing="0.6" fill="#000" stroke="#000" stroke-width="0.1">76,930,958</text>
<text x="254.50" y="485.30" dx="0.3" text-anchor="middle" font-size="11" letter-spacing="0.6" fill="#000" stroke="#000" stroke-width="0.1">-121,998,661</text>
<text x="338.50" y="485.30" dx="0.3" text-anchor="middle" font-size="11" letter-spacing="0.6" fill="#000" stroke="#000" stroke-width="0.1">-3,330,964</text>
<text x="423.00" y="485.30" dx="0.3" text-anchor="middle" font-size="11" letter-spacing="0.6" fill="#000" stroke="#000" stroke-width="0.1">64,029,230</text>
<text x="507.50" y="485.30" dx="0.3" text-anchor="middle" font-size="11" letter-spacing="0.6" fill="#000" stroke="#000" stroke-width="0.1">76,930,958</text>
<text x="592.00" y="485.30" dx="0.3" text-anchor="middle" font-size="11" letter-spacing="0.6" fill="#000" stroke="#000" stroke-width="0.1">-58,793,977</text>
<text x="676.50" y="485.30" dx="0.3" text-anchor="middle" font-size="11" letter-spacing="0.6" fill="#000" stroke="#000" stroke-width="0.1">-53,031,916</text>
<text x="761.00" y="485.30" dx="0.3" text-anchor="middle" font-size="11" letter-spacing="0.6" fill="#000" stroke="#000" stroke-width="0.1">127,761,506</text>
<rect x="20.4" y="498.60" width="26.2" height="7.2" fill="#2399b2" stroke="#0f6478" stroke-width="0.8"/>
<rect x="21" y="502.80" width="25" height="2.6" fill="#0f6478" opacity="0.45"/>
<polygon points="21.2,499.20 45.8,499.20 42.8,502.10 24.2,502.10" fill="#7ae4f6"/>
<text x="50" y="507.30" font-size="12.5" letter-spacing="0.0" fill="#000">個人信用</text>
<text x="170.00" y="508.80" dx="0.3" text-anchor="middle" font-size="11" letter-spacing="0.6" fill="#000" stroke="#000" stroke-width="0.1">66,833,422</text>
<text x="254.50" y="508.80" dx="0.3" text-anchor="middle" font-size="11" letter-spacing="0.6" fill="#000" stroke="#000" stroke-width="0.1">-6,372,268</text>
<text x="338.50" y="508.80" dx="0.3" text-anchor="middle" font-size="11" letter-spacing="0.6" fill="#000" stroke="#000" stroke-width="0.1">37,142,346</text>
<text x="423.00" y="508.80" dx="0.3" text-anchor="middle" font-size="11" letter-spacing="0.6" fill="#000" stroke="#000" stroke-width="0.1">66,486,362</text>
<text x="507.50" y="508.80" dx="0.3" text-anchor="middle" font-size="11" letter-spacing="0.6" fill="#000" stroke="#000" stroke-width="0.1">66,833,422</text>
<text x="592.00" y="508.80" dx="0.3" text-anchor="middle" font-size="11" letter-spacing="0.6" fill="#000" stroke="#000" stroke-width="0.1">-103,859,447</text>
<text x="676.50" y="508.80" dx="0.3" text-anchor="middle" font-size="11" letter-spacing="0.6" fill="#000" stroke="#000" stroke-width="0.1">-198,564,328</text>
<text x="761.00" y="508.80" dx="0.3" text-anchor="middle" font-size="11" letter-spacing="0.6" fill="#000" stroke="#000" stroke-width="0.1">114,833,977</text>
<rect x="20.4" y="522.10" width="26.2" height="7.2" fill="#ea8426" stroke="#a85610" stroke-width="0.8"/>
<rect x="21" y="526.30" width="25" height="2.6" fill="#a85610" opacity="0.45"/>
<polygon points="21.2,522.70 45.8,522.70 42.8,525.60 24.2,525.60" fill="#fbbd62"/>
<text x="50" y="530.80" font-size="12.5" letter-spacing="0.0" fill="#000">総合計</text>
<text x="170.00" y="532.30" dx="0.3" text-anchor="middle" font-size="11" letter-spacing="0.6" fill="#000" stroke="#000" stroke-width="0.1">138,397,979</text>
<text x="254.50" y="532.30" dx="0.3" text-anchor="middle" font-size="11" letter-spacing="0.6" fill="#000" stroke="#000" stroke-width="0.1">30,394,961</text>
<text x="338.50" y="532.30" dx="0.3" text-anchor="middle" font-size="11" letter-spacing="0.6" fill="#000" stroke="#000" stroke-width="0.1">56,570,504</text>
<text x="423.00" y="532.30" dx="0.3" text-anchor="middle" font-size="11" letter-spacing="0.6" fill="#000" stroke="#000" stroke-width="0.1">47,377,645</text>
<text x="507.50" y="532.30" dx="0.3" text-anchor="middle" font-size="11" letter-spacing="0.6" fill="#000" stroke="#000" stroke-width="0.1">138,397,979</text>
<text x="592.00" y="532.30" dx="0.3" text-anchor="middle" font-size="11" letter-spacing="0.6" fill="#000" stroke="#000" stroke-width="0.1">5,285,041</text>
<text x="676.50" y="532.30" dx="0.3" text-anchor="middle" font-size="11" letter-spacing="0.6" fill="#000" stroke="#000" stroke-width="0.1">-2,777,655</text>
<text x="761.00" y="532.30" dx="0.3" text-anchor="middle" font-size="11" letter-spacing="0.6" fill="#000" stroke="#000" stroke-width="0.1">8,971,396</text>
<line x1="20.5" x2="47.5" y1="549.00" y2="549.00" stroke="#ed1423" stroke-opacity="0.65" stroke-width="2"/>
<text x="50" y="553.80" font-size="12.5" letter-spacing="0.0" fill="#000">日経平均(週)</text>
<text x="170.00" y="555.30" dx="0.3" text-anchor="middle" font-size="11" letter-spacing="0.6" fill="#000" stroke="#000" stroke-width="0.1">8,626.97</text>
<text x="254.50" y="555.30" dx="0.3" text-anchor="middle" font-size="11" letter-spacing="0.6" fill="#000" stroke="#000" stroke-width="0.1">8,749.84</text>
<text x="338.50" y="555.30" dx="0.3" text-anchor="middle" font-size="11" letter-spacing="0.6" fill="#000" stroke="#000" stroke-width="0.1">8,964.11</text>
<text x="423.00" y="555.30" dx="0.3" text-anchor="middle" font-size="11" letter-spacing="0.6" fill="#000" stroke="#000" stroke-width="0.1">8,907.58</text>
<text x="507.50" y="555.30" dx="0.3" text-anchor="middle" font-size="11" letter-spacing="0.6" fill="#000" stroke="#000" stroke-width="0.1">8,977.37</text>
<text x="592.00" y="555.30" dx="0.3" text-anchor="middle" font-size="11" letter-spacing="0.6" fill="#000" stroke="#000" stroke-width="0.1">8,707.99</text>
<text x="676.50" y="555.30" dx="0.3" text-anchor="middle" font-size="11" letter-spacing="0.6" fill="#000" stroke="#000" stroke-width="0.1">9,432.83</text>
<text x="761.00" y="555.30" dx="0.3" text-anchor="middle" font-size="11" letter-spacing="0.6" fill="#000" stroke="#000" stroke-width="0.1">9,093.73</text>
<text x="813.9 820 833.7 849.8" y="527" font-size="13.5" fill="#000">(千円)</text>
</svg></body></html>
